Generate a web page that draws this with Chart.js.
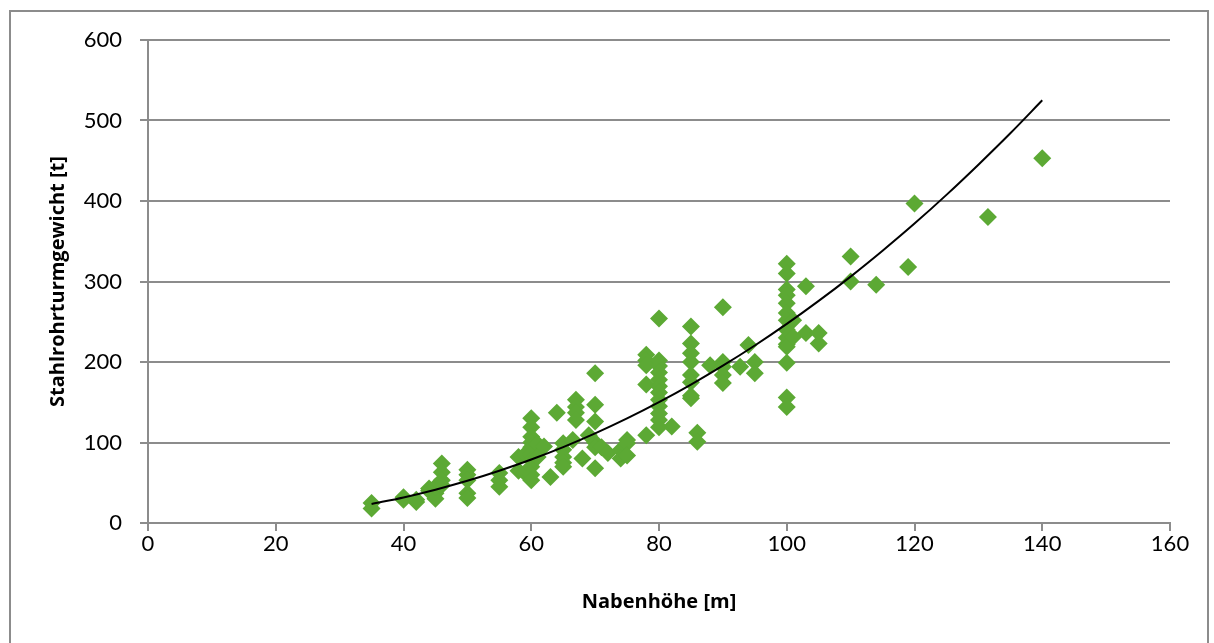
<!DOCTYPE html>
<html>
<head>
<meta charset="utf-8">
<script src="https://cdn.jsdelivr.net/npm/chart.js@4"></script>
<style>
    body { margin: 0; background: #fff; }
    #wrap { position: relative; width: 1214px; height: 643px; overflow: hidden; }
    #frame { position: absolute; left: 9px; top: 10px; width: 1196px; height: 700px; border: 2px solid #8c8c8c; pointer-events: none; }
    canvas { position: absolute; left: 0; top: 0; }
</style>
</head>
<body>
<div id="wrap">
    <canvas id="chart" width="1214" height="643"></canvas>
    <div id="frame"></div>
</div>
<script>
// Nabenhöhe [m] of each tower
const heightM = [
    35, 35, 40, 40, 42, 42, 44, 44, 45, 45, 45, 46, 46, 46, 46,
    50, 50, 50, 50, 50, 55, 55, 55, 58, 58, 59, 59,
    60, 60, 60, 60, 60, 60, 60, 60, 60, 60, 61, 61, 62, 63, 64,
    65, 65, 65, 65, 65, 66.5, 67, 67, 67, 67, 68, 69,
    70, 70, 70, 70, 70, 70, 71, 72, 74, 74, 75, 75, 75,
    78, 78, 78, 78, 78,
    80, 80, 80, 80, 80, 80, 80, 80, 80, 80, 80, 80, 82,
    85, 85, 85, 85, 85, 85, 85, 85, 86, 86, 88,
    90, 90, 90, 90, 90, 92.7, 94, 95, 95,
    100, 100, 100, 100, 100, 100, 100, 100, 100, 100, 100, 100, 100, 100,
    101, 101, 103, 103, 105, 105, 110, 110, 114, 119, 120, 131.5, 140
];

// Stahlrohrturmgewicht [t] of each tower
const weightT = [
    25, 18, 32, 29, 26, 29, 43, 40, 37, 30, 45, 74, 63, 53, 47,
    66, 60, 53, 37, 31, 62, 53, 45, 82, 65, 85, 62,
    130, 119, 107, 100, 94, 85, 78, 70, 60, 53, 98, 82, 95, 57, 137,
    99, 91, 82, 75, 70, 103, 153, 144, 137, 128, 80, 109,
    186, 147, 126, 100, 94, 68, 94, 87, 91, 80, 103, 99, 84,
    209, 202, 196, 172, 109,
    254, 202, 195, 187, 178, 170, 162, 153, 145, 136, 128, 119, 120,
    244, 223, 211, 200, 184, 175, 158, 155, 112, 101, 196,
    268, 200, 194, 184, 174, 194, 221, 200, 186,
    322, 310, 290, 283, 273, 261, 252, 240, 230, 222, 219, 199, 156, 144,
    252, 231, 294, 236, 236, 223, 331, 300, 296, 318, 397, 380, 453
];

// trend line (potenziell)
const trendX = [35, 40, 45, 50, 55, 60, 65, 70, 75, 80, 85, 90, 95, 100, 105, 110, 115, 120, 125, 130, 135, 140];
const trendY = [23.6, 31.8, 41.4, 52.4, 64.9, 78.9, 94.3, 111.3, 129.9, 150.1, 171.9, 195.4, 220.5, 247.3, 275.9, 306.1, 338.2, 371.9, 407.6, 445.1, 484.1, 525.1];

const yTicks = [0, 100, 200, 300, 400, 500, 600];
const xTicks = [0, 20, 40, 60, 80, 100, 120, 140, 160];

const axisGray = "#8c8c8c";
const tickFont = "Lato, 'Open Sans', sans-serif";
const titleFont = "'Open Sans', Lato, sans-serif";

function drawChart() {
    const ctx = document.getElementById("chart").getContext("2d");

    const points = heightM.map((h, i) => ({ x: h, y: weightT[i] }));
    const trend = trendX.map((h, i) => ({ x: h, y: trendY[i] }));

    new Chart(ctx, {
        type: "scatter",
        data: {
            datasets: [{
                label: "Stahlrohrturm",
                data: points,
                pointStyle: "rectRot",
                pointRadius: 9,
                pointHoverRadius: 9,
                pointBackgroundColor: "#5ca934",
                pointBorderWidth: 0,
                order: 2
            }, {
                type: "line",
                label: "Trend",
                data: trend,
                borderColor: "#000",
                borderWidth: 2,
                pointRadius: 0,
                fill: false,
                cubicInterpolationMode: "monotone",
                order: 1
            }]
        },
        options: {
            responsive: false,
            animation: false,
            events: [],
            layout: { padding: { top: 40, right: 44, left: 0, bottom: 0 } },
            plugins: {
                legend: { display: false },
                tooltip: { enabled: false }
            },
            scales: {
                x: {
                    type: "linear",
                    min: 0,
                    max: 160,
                    afterFit: axis => { axis.height = 120; },
                    afterBuildTicks: axis => { axis.ticks = xTicks.map(v => ({ value: v })); },
                    grid: { drawOnChartArea: false, drawTicks: true, tickLength: 8, color: axisGray, lineWidth: 2 },
                    border: { display: true, color: axisGray, width: 2 },
                    ticks: { color: "#000", padding: 0, font: { family: tickFont, size: 22 } },
                    title: {
                        display: true,
                        text: "Nabenhöhe [m]",
                        color: "#000",
                        padding: { top: 0, bottom: 29 },
                        font: { family: titleFont, size: 20, weight: "bold" }
                    }
                },
                y: {
                    min: 0,
                    max: 600,
                    afterFit: axis => { axis.width = 148; },
                    afterBuildTicks: axis => { axis.ticks = yTicks.map(v => ({ value: v })); },
                    grid: { drawOnChartArea: true, drawTicks: true, tickLength: 8, color: axisGray, lineWidth: 2 },
                    border: { display: true, color: axisGray, width: 2 },
                    ticks: { color: "#000", padding: 18, font: { family: tickFont, size: 22 } },
                    title: {
                        display: true,
                        text: "Stahlrohrturmgewicht [t]",
                        color: "#000",
                        padding: { top: 46, bottom: 0 },
                        font: { family: titleFont, size: 20, weight: "bold" }
                    }
                }
            }
        }
    });
}
window.addEventListener('load', drawChart);
</script>
</body>
</html>
